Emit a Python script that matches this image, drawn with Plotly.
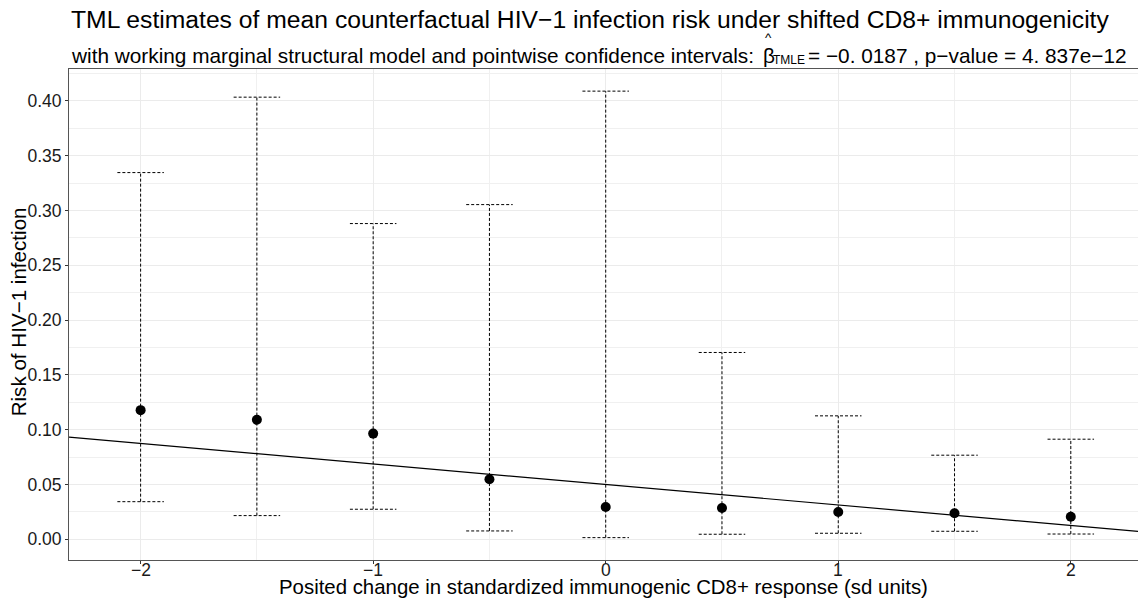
import plotly.graph_objects as go

# ---- data ----
shift = [-2.0, -1.5, -1.0, -0.5, 0.0, 0.5, 1.0, 1.5, 2.0]
risk_est = [0.1178, 0.1090, 0.0964, 0.0548, 0.0295, 0.0286, 0.0249, 0.0237, 0.0206]
ci_lower = [0.0343, 0.0216, 0.0274, 0.0076, 0.0015, 0.0046, 0.0055, 0.0073, 0.0048]
ci_upper = [0.3345, 0.4033, 0.2880, 0.3053, 0.4088, 0.1704, 0.1126, 0.0767, 0.0913]
msm_intercept = 0.0500
msm_slope = -0.0187
x_ticks = [-2, -1, 0, 1, 2]
x_tick_labels = ["−2", "−1", "0", "1", "2"]
y_ticks = [0.00, 0.05, 0.10, 0.15, 0.20, 0.25, 0.30, 0.35, 0.40]
y_tick_labels = ["0.00", "0.05", "0.10", "0.15", "0.20", "0.25", "0.30", "0.35", "0.40"]

X_RANGE = [-2.308, 2.289]
Y_RANGE = [-0.0189, 0.429]
CAP = 0.1
FONT = "Liberation Sans, Arial, sans-serif"

# error bars as dashed segments
ex, ey = [], []
for x, lo, hi in zip(shift, ci_lower, ci_upper):
    ex += [x, x, None, x - CAP, x + CAP, None, x - CAP, x + CAP, None]
    ey += [lo, hi, None, lo, lo, None, hi, hi, None]

fig = go.Figure()
fig.add_trace(go.Scatter(x=ex, y=ey, mode="lines",
                         line=dict(color="black", width=1, dash="3px,2px"),
                         hoverinfo="skip", showlegend=False))
lx = X_RANGE
ly = [msm_intercept + msm_slope * v for v in lx]
fig.add_trace(go.Scatter(x=lx, y=ly, mode="lines",
                         line=dict(color="black", width=1.2), showlegend=False))
fig.add_trace(go.Scatter(x=shift, y=risk_est, mode="markers",
                         marker=dict(color="black", size=10), showlegend=False))

W, H = 1138, 599
ml, mr, mt, mb = 69, 0, 69.3, 39
ph = H - mt - mb
pw = W - ml - mr

fig.update_layout(
    width=W, height=H,
    margin=dict(l=ml, r=mr, t=mt, b=mb, autoexpand=False),
    paper_bgcolor="white", plot_bgcolor="white",
    font=dict(family=FONT, color="black"),
    showlegend=False,
    xaxis=dict(range=X_RANGE, tickvals=x_ticks, showticklabels=False,
               showgrid=True, gridcolor="#ebebeb", gridwidth=1,
               minor=dict(dtick=0.5, tick0=0, showgrid=True, gridcolor="#f0f0f0", gridwidth=0.7, ticks=""),
               zeroline=False, showline=True, linecolor="#555555", linewidth=1, mirror=True,
               ticks="outside", ticklen=3, tickcolor="#333333"),
    yaxis=dict(range=Y_RANGE, tickvals=y_ticks, ticktext=y_tick_labels,
               showgrid=True, gridcolor="#ebebeb", gridwidth=1,
               minor=dict(dtick=0.025, tick0=0, showgrid=True, gridcolor="#f0f0f0", gridwidth=0.7, ticks=""),
               zeroline=False, showline=True, linecolor="#555555", linewidth=1,
               ticks="outside", ticklen=3, tickcolor="#333333",
               tickfont=dict(size=17.5, color="#1a1a1a", family=FONT)),
)

def py(pxv):  # pixel y (from top) -> paper y
    return (H - mb - pxv) / ph

def px_(pxv):  # pixel x -> paper x
    return (pxv - ml) / pw

def ann(text, x, y, size, xanchor="left", yanchor="middle", **kw):
    fig.add_annotation(text=text, xref="paper", yref="paper", x=x, y=y,
                       xanchor=xanchor, yanchor=yanchor, showarrow=False,
                       font=dict(size=size, family=FONT, color=kw.pop("color", "black")), **kw)

# x tick labels
for v, t in zip(x_ticks, x_tick_labels):
    fig.add_annotation(text=t, xref="x", yref="paper", x=v, y=py(570),
                       xanchor="center", yanchor="middle", showarrow=False,
                       font=dict(size=17.5, family=FONT, color="#1a1a1a"))

# title
ann("TML estimates of mean counterfactual HIV−1 infection risk under shifted CD8+ immunogenicity",
    0, py(19.5), 24.7)
# subtitle pieces
ann("with working marginal structural model and pointwise confidence intervals:", 0, py(55.5), 20.8)
ann("β", px_(761), py(55.5), 20.8)
ann("^", px_(768), py(37.5), 13.5, xanchor="center")
ann("TMLE", px_(771), py(60), 12)
ann("= −0. 0187 , p−value = 4. 837e−12", px_(806), py(55.5), 20.8)

# axis titles
ann("Posited change in standardized immunogenic CD8+ response (sd units)", 0.5, py(586.5), 20.4,
    xanchor="center")
ann("Risk of HIV−1 infection", px_(18), py(312.5), 20.6, xanchor="center", textangle=-90)

fig.write_html("out.html")
